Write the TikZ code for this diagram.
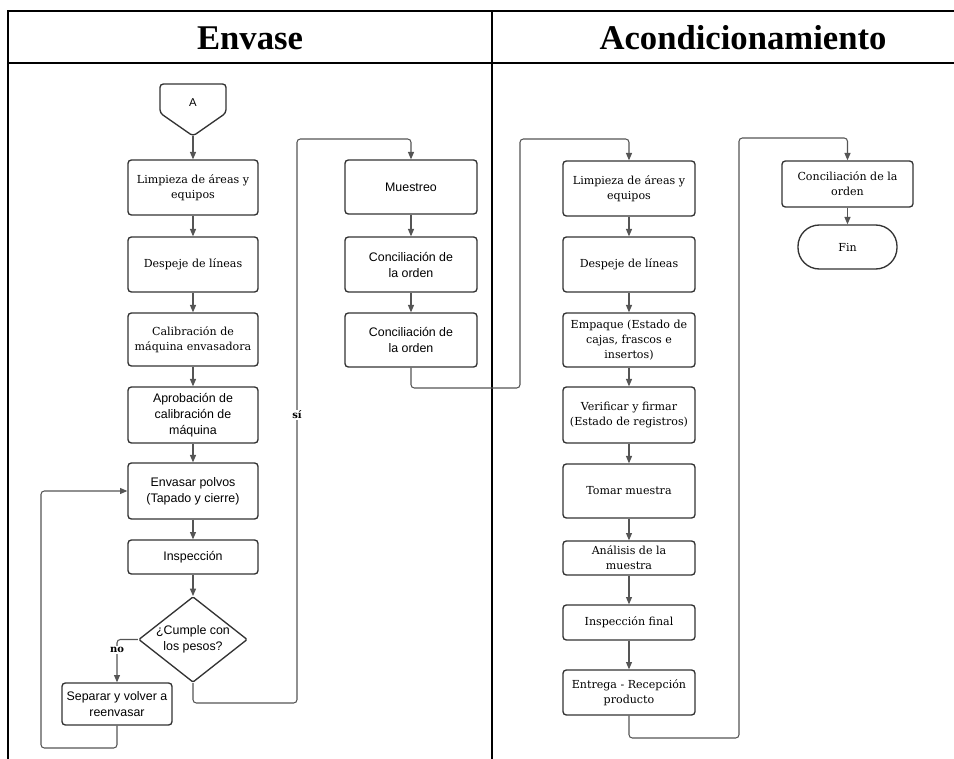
\documentclass[tikz,border=0pt]{standalone}
\usepackage{fontspec}
\setmainfont{Liberation Serif}
\newfontfamily\slabfont{DejaVu Serif}
\newfontfamily\arialfont{Liberation Sans}
\usetikzlibrary{arrows.meta,shapes.geometric}
\newcommand\pxu{0.75pt}
\definecolor{boxc}{HTML}{333333}
\definecolor{linec}{HTML}{555555}
\begin{document}
\begin{tikzpicture}[x=0.75pt,y=-0.75pt,
  tbl/.style={line width=1.6pt,black},
  hdr/.style={font=\bfseries\fontsize{26}{30}\selectfont},
  box/.style={draw=boxc,line width=1pt,rounded corners=2.5pt,align=center,inner sep=1pt,fill=white},
  sbox/.style={box,font=\slabfont\fontsize{8.3}{11.25}\selectfont},
  abox/.style={box,font=\arialfont\fontsize{9.3}{12}\selectfont},
  conn/.style={draw=linec,line width=0.8pt,rounded corners=2.5pt},
  arr/.style={conn,-{Triangle[length=5.5pt,width=4.5pt]}},
  lab/.style={font=\slabfont\bfseries\fontsize{7.5}{9}\selectfont,fill=white,inner sep=1pt}
]
\useasboundingbox (0,0) rectangle (954,759);
% table
\draw[tbl] (8,759) -- (8,11) -- (954,11);
\draw[tbl] (8,63) -- (954,63);
\draw[tbl] (492,11) -- (492,759);
\node[hdr] (h1) at (250,38) {Envase};
\node[hdr] (h2) at (743,38) {Acondicionamiento};

% off-page connector A
\draw[draw=boxc,line width=1pt,rounded corners=2.5pt,fill=white] (160,113) -- (160,84) -- (226,84) -- (226,113) -- (193,136) -- cycle;
\node[font=\arialfont\fontsize{8.5}{10}\selectfont] (A) at (193,103) {A};
\coordinate (Abot) at (193,136);

% left column
\node[sbox,minimum width=130*\pxu,minimum height=55*\pxu] (l1) at (193,187.5) {Limpieza de áreas y\\equipos};
\node[sbox,minimum width=130*\pxu,minimum height=55*\pxu] (l2) at (193,264.5) {Despeje de líneas};
\node[sbox,minimum width=130*\pxu,minimum height=53*\pxu] (l3) at (193,339.5) {Calibración de\\máquina envasadora};
\node[abox,minimum width=130*\pxu,minimum height=56*\pxu] (l4) at (193,415) {Aprobación de\\calibración de\\máquina};
\node[abox,minimum width=130*\pxu,minimum height=56*\pxu] (l5) at (193,491) {Envasar polvos\\(Tapado y cierre)};
\node[abox,minimum width=130*\pxu,minimum height=34*\pxu] (l6) at (193,557) {Inspección};
\node[abox,shape=diamond,rounded corners=1pt,aspect=1.27,inner sep=0pt,minimum width=108*\pxu,minimum height=85*\pxu] (d) at (193,639.5) {¿Cumple con\\los pesos?};
\node[abox,minimum width=110*\pxu,minimum height=42*\pxu] (sep) at (117,704) {Separar y volver a\\reenvasar};

% middle column
\node[abox,minimum width=132*\pxu,minimum height=54*\pxu] (m1) at (411,187) {Muestreo};
\node[abox,minimum width=132*\pxu,minimum height=55*\pxu] (m2) at (411,264.5) {Conciliación de\\la orden};
\node[abox,minimum width=132*\pxu,minimum height=54*\pxu] (m3) at (411,340) {Conciliación de\\la orden};

% right column
\node[sbox,minimum width=132*\pxu,minimum height=55*\pxu] (r1) at (629,188.5) {Limpieza de áreas y\\equipos};
\node[sbox,minimum width=132*\pxu,minimum height=55*\pxu] (r2) at (629,264.5) {Despeje de líneas};
\node[sbox,minimum width=132*\pxu,minimum height=54*\pxu] (r3) at (629,340) {Empaque (Estado de\\cajas, frascos e\\insertos)};
\node[sbox,minimum width=132*\pxu,minimum height=56*\pxu] (r4) at (629,415) {Verificar y firmar\\(Estado de registros)};
\node[sbox,minimum width=132*\pxu,minimum height=54*\pxu] (r5) at (629,491) {Tomar muestra};
\node[sbox,minimum width=132*\pxu,minimum height=34*\pxu] (r6) at (629,558) {Análisis de la\\muestra};
\node[sbox,minimum width=132*\pxu,minimum height=35*\pxu] (r7) at (629,622.5) {Inspección final};
\node[sbox,minimum width=132*\pxu,minimum height=45*\pxu] (r8) at (629,692.5) {Entrega - Recepción\\producto};

% far right
\node[sbox,minimum width=131*\pxu,minimum height=46*\pxu] (f1) at (847.5,184) {Conciliación de la\\orden};
\node[sbox,rounded corners=16pt,minimum width=99*\pxu,minimum height=44*\pxu] (fin) at (847.5,247) {Fin};

% connectors
\draw[arr] (Abot) -- (l1);
\draw[arr] (l1) -- (l2);
\draw[arr] (l2) -- (l3);
\draw[arr] (l3) -- (l4);
\draw[arr] (l4) -- (l5);
\draw[arr] (l5) -- (l6);
\draw[arr] (l6) -- (d);
\draw[arr] (d.west) -| (sep.north);
\node[lab] (no) at (117,650) {no};
\coordinate (lp1) at (117,748);
\coordinate (lp2) at (41,748);
\coordinate (lp3) at (41,491);
\draw[arr] (sep.south) -- (lp1) -- (lp2) -- (lp3) -- (l5.west);

\coordinate (s1) at (193,703);
\coordinate (s2) at (297,703);
\coordinate (s3) at (297,139);
\coordinate (s4) at (411,139);
\draw[arr] (d.south) -- (s1) -- (s2) -- (s3) -- (s4) -- (m1.north);
\node[lab] (si) at (297,415) {sí};

\draw[arr] (m1) -- (m2);
\draw[arr] (m2) -- (m3);
\coordinate (t1) at (411,388);
\coordinate (t2) at (520,388);
\coordinate (t3) at (520,139);
\coordinate (t4) at (629,139);
\draw[arr] (m3.south) -- (t1) -- (t2) -- (t3) -- (t4) -- (r1.north);

\draw[arr] (r1) -- (r2);
\draw[arr] (r2) -- (r3);
\draw[arr] (r3) -- (r4);
\draw[arr] (r4) -- (r5);
\draw[arr] (r5) -- (r6);
\draw[arr] (r6) -- (r7);
\draw[arr] (r7) -- (r8);
\coordinate (u1) at (629,738);
\coordinate (u2) at (739,738);
\coordinate (u3) at (739,138);
\coordinate (u4) at (847.5,138);
\draw[arr] (r8.south) -- (u1) -- (u2) -- (u3) -- (u4) -- (f1.north);
\draw[arr] (f1) -- (fin);
\end{tikzpicture}
\end{document}
